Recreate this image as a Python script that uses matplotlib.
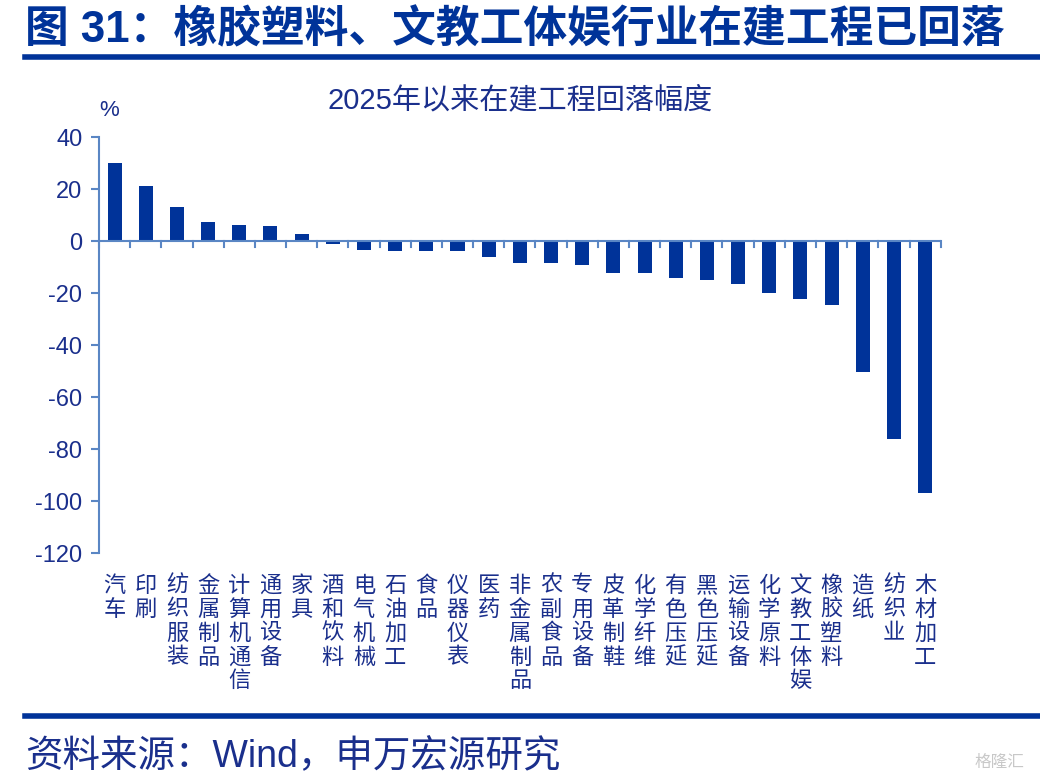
import matplotlib
matplotlib.use("Agg")
import matplotlib.pyplot as plt
from matplotlib.lines import Line2D

plt.rcParams["font.family"] = ["Liberation Sans", "Noto Sans CJK SC"]

categories = ["汽车", "印刷", "纺织服装", "金属制品", "计算机通信", "通用设备", "家具",
              "酒和饮料", "电气机械", "石油加工", "食品", "仪器仪表", "医药", "非金属制品",
              "农副食品", "专用设备", "皮革制鞋", "化学纤维", "有色压延", "黑色压延",
              "运输设备", "化学原料", "文教工体娱", "橡胶塑料", "造纸", "纺织业", "木材加工"]
values = [30.3, 21.1, 13.3, 7.4, 6.3, 5.8, 2.9, -0.9, -3.4, -3.7, -3.7, -3.9, -6.2, -8.2,
          -8.5, -9.2, -12.1, -12.1, -14.0, -15.1, -16.6, -19.9, -22.1, -24.4, -50.3, -76.1, -96.8]
yticks = [40, 20, 0, -20, -40, -60, -80, -100, -120]

title = "图 31：橡胶塑料、文教工体娱行业在建工程已回落"
subtitle = "2025年以来在建工程回落幅度"
source = "资料来源：Wind，申万宏源研究"

navy = "#003399"
text_c = "#1a2f8c"
axis_c = "#5a86c4"

fig = plt.figure(figsize=(10.4, 7.82), dpi=100)
ax = fig.add_axes([0.0952, 0.2928, 0.8093, 0.5316])

x = list(range(len(categories)))
ax.bar(x, values, width=0.45, color=navy, zorder=3)

ax.set_xlim(-0.5, len(categories) - 0.5)
ax.set_ylim(-120, 40)
ax.set_yticks(yticks)
ax.set_yticklabels([str(v) for v in yticks], fontsize=17, color=text_c)
ax.tick_params(axis="y", direction="out", length=6, width=1.5, color=axis_c, pad=6)

for s in ["top", "right", "bottom"]:
    ax.spines[s].set_visible(False)
ax.spines["left"].set_color(axis_c)
ax.spines["left"].set_linewidth(1.5)

# zero line with boundary ticks
ax.axhline(0, color=axis_c, lw=1.5, zorder=4)
ax.set_xticks([])
for b in range(len(categories) + 1):
    ax.plot([b - 0.5, b - 0.5], [0, -2.4], color=axis_c, lw=1.5, zorder=4, clip_on=False)

# vertical stacked category labels
for i, c in enumerate(categories):
    ax.text(i, -0.05, "\n".join(c), transform=ax.get_xaxis_transform(), ha="center", va="top",
            fontsize=16, color=text_c, linespacing=1.05, family=["Noto Sans CJK SC"])

ax.text(0.0, 1.04, "%", transform=ax.transAxes, ha="left", va="bottom", fontsize=16, color=text_c)

fig.text(0.5, 0.872, subtitle, ha="center", va="center", fontsize=21, color=text_c)
fig.text(0.024, 0.962, title, ha="left", va="center", fontsize=31.5, fontweight="bold", color=navy,
         family=["Liberation Sans", "Noto Sans CJK SC"])
fig.text(0.024, 0.032, source, ha="left", va="center", fontsize=27, color=text_c)
fig.text(0.985, 0.025, "格隆汇", ha="right", va="center", fontsize=12, color="#c8c8c8")

fig.add_artist(Line2D([0.024, 1.0], [0.9265, 0.9265], color=navy, lw=4))
fig.add_artist(Line2D([0.024, 1.0], [0.0845, 0.0845], color=navy, lw=4))

fig.savefig("out.png", dpi=100)
